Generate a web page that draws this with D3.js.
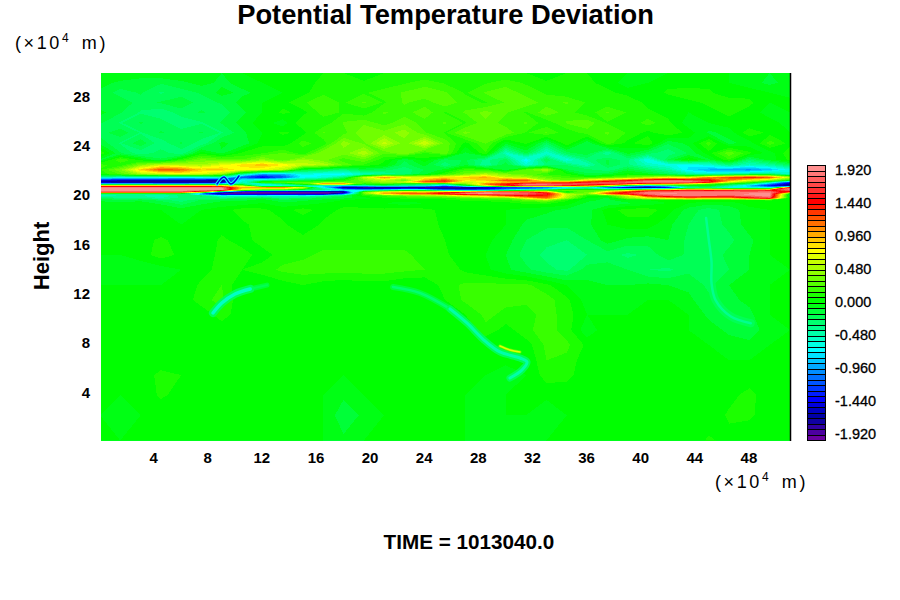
<!DOCTYPE html>
<html><head><meta charset="utf-8">
<style>html,body{margin:0;background:#fff}svg{display:block}text{font-family:"Liberation Sans",Arial,sans-serif;fill:#000}</style>
<script src="https://cdn.jsdelivr.net/npm/d3@7"></script></head><body><div id="chart"></div>
<script>
const titleText = "Potential Temperature Deviation";
const timeText = "TIME = 1013040.0";
const xTicks = [4,8,12,16,20,24,28,32,36,40,44,48];
const yTicks = [4,8,12,16,20,24,28];
const legendTicks = [1.92,1.44,0.96,0.48,0,-0.48,-0.96,-1.44,-1.92];
// one colour per 0.08 band, from -2.00 up to +2.00
const bandColors = ["#6a00a0","#4c00a0","#3000a0","#1000a0","#0000a8","#0000c0","#0000e0","#0000ff","#001cff","#0038ff",
"#0055ff","#0070ff","#008eff","#00aaff","#00c6ff","#00e2ff","#00ffff","#00ffe2","#00ffc6","#00ffaa",
"#00ff8e","#00ff70","#00ff55","#00ff38","#00ff14","#00ff00","#1cff00","#38ff00","#55ff00","#70ff00",
"#8eff00","#aaff00","#c6ff00","#e2ff00","#ffff00","#ffe200","#ffc600","#ffaa00","#ff8e00","#ff7000",
"#ff5500","#ff3800","#ff1c00","#ff0000","#ff1818","#ff3030","#ff4848","#ff6060","#ff7878","#ff9090"];
// sample stations, x10^4 m
const xStations = [0,1.5,3,4.5,6,7.5,9,10.5,12,13.5,15,16.5,18,19.5,21,22.5,24,25.5,27,28.5,30,31.5,33,34.5,36,37.5,39,40.5,42,43.5,45,46.5,48,49.5,51];
const heights = [29.8,29,28.2,27.4,26.6,25.75,24.95,24.1,23.3,22.75,22.35,21.95,21.6,21.35,21.1,20.95,20.8,20.65,20.5,20.3,20.15,20,19.85,19.65,19.5,19.25,18.7,17.5,16.25,15.05,13.85,12.6,11.4,10.2,8.95,7.75,6.5,5.3,3.7,2.05,0];
// deviation x100, one row per height, one column per station
const deviation = [
[0,0,0,0,0, -8,-8,0,0,0, 8,8,8,0,8, 8,8,8,8,8, 8,8,0,8,8, 0,0,-8,0,0, 0,0,-8,-8,-8],
[-5,-10,-15,-15,-10, -5,-10,-5,0,5, 5,10,15,10,10, 15,20,15,10,15, 20,15,10,15,10, 5,-5,0,5,0, 5,0,-5,-10,-5],
[-10,-20,-15,-25,-20, -15,-5,-10,-5,0, 5,15,10,15,20, 25,30,25,15,25, 30,20,15,10,15, 10,5,0,10,15, 10,0,5,0,-5],
[-15,-10,-20,-15,-10, -20,-15,-5,0,5, 15,20,15,25,15, 25,20,30,20,15, 25,30,20,25,15, 10,15,5,0,5, 10,15,10,0,5],
[-5,-15,-25,-30,-20, -15,-20,-10,0,10, 5,20,15,10,25, 20,30,15,25,35, 25,15,30,20,10, 25,15,10,5,0, 5,10,5,-5,0],
[-15,-25,-15,-20,-30, -25,-15,-5,5,-5, 15,10,25,30,20, 30,20,25,15,30, 20,25,10,25,30, 15,10,20,10,-5, 0,5,0,5,-5],
[-20,-10,-25,-15,-20, -15,-25,-10,0,10, 5,25,20,40,35, 45,25,15,35,25, 30,15,25,10,20, 25,15,5,15,5, -10,-5,15,5,0],
[-10,-25,-10,-30,-15, -30,-5,-15,5,0, 20,10,45,30,60, 35,65,30,5,25, -5,10,-20,15,-15, 20,5,15,-15,-5, 20,-10,-5,20,5],
[15,-15,-30,-20,-30, 5,-10,10,15,25, 10,40,35,55,25, 40,15,30,-10,15, -50,-15,-55,-20,-10, -40,-5,-20,-30,-15, 5,30,10,-5,15],
[-10,25,5,-15,15, 35,30,25,45,25, 50,35,20,30,10, -15,5,-20,-15,-35, -20,-70,-15,-60,-30, -15,-30,-65,-15,10, -10,15,-25,-5,10],
[20,10,40,60,55, 50,70,85,95,80, 60,55,30,15,5, -20,-5,-30,-10,-40, -10,-55,-30,-25,-45, -15,-30,-50,-60,-70, -55,-30,-50,-40,-20],
[15,40,90,130,120, 90,90,75,70,55, -10,-20,-30,-15,-20, -30,-15,-5,20,15, -10,30,50,-15,-20, -30,-10,-25,-40,-75, -90,-95,-100,-85,-60],
[10,25,50,60,70, 65,45,-30,-90,-90, -60,-65,-70,-50,-40, -30,-10,15,35,55, 40,30,15,10,-15, -10,5,-5,-20,-40, -50,-40,-30,-25,-50],
[-40,-50,-50,-55,-60, -55,-40,-120,-150,-120, -70,-60,-30,60,110, 80,70,80,90,100, 60,50,30,20,10, 20,30,50,70,60, 110,130,150,130,60],
[-140,-150,-150,-150,-150, -150,-170,-60,-40,-30, -20,-5,10,40,60, 30,100,130,80,90, 130,130,50,30,80, 110,140,170,180,170, 150,110,70,50,10],
[-170,-180,-180,-180,-180, -180,-170,-50,30,30, 30,30,30,30,50, 70,130,140,60,70, 90,100,110,120,150, 170,185,195,198,198, 170,70,30,-30,-120],
[-60,-60,-60,-70,-70, -60,-60,-30,-60,-30, 20,130,130,10,20, -10,-20,-30,40,120, 150,190,190,180,180, 170,150,110,100,60, 20,0,-30,-100,-170],
[120,120,120,120,120, 120,110,60,-60,-60, -50,-80,-90,-60,-30, -40,-50,-100,-20,60, 130,170,170,150,110, 60,-40,-100,-60,-10, 0,-40,-90,-140,-170],
[195,195,195,195,195, 195,195,100,120,130, 70,-60,-170,-190,-190, -190,-190,-190,-190,-170, -150,-150,-130,-90,-60, -120,-160,-170,-140,-40, -30,-60,-60,-60,190],
[199,199,199,199,199, 199,199,60,10,0, -20,-30,-60,-70,-50, -20,-30,-90,-100,-100, -60,-20,10,40,30, 20,60,110,130,150, 140,150,160,150,190],
[170,170,170,170,170, 100,-100,-195,-195,-195, -195,-195,-190,40,90, 100,90,130,150,180, 180,170,120,-10,30, 100,150,190,190,190, 190,190,180,190,130],
[-30,-30,-30,-30,-30, -120,-190,-190,-190,-190, -190,-190,-120,30,100, 130,130,160,190,199, 190,180,160,60,40, 130,160,190,195,190, 190,190,195,195,-10],
[-50,-40,-40,-50,-30, -20,-60,-50,-60,-50, -60,-40,-20,10,20, 30,40,50,80,100, 130,150,140,60,10, 10,60,150,180,190, 185,180,190,195,-20],
[-20,-30,-30,-40,-30, -30,-30,-20,-10,-30, -20,-15,-10,-5,5, 10,15,15,20,30, 30,80,120,50,0, -10,40,70,90,110, 100,100,140,170,-5],
[-10,-15,-10,-20,-30, -15,-10,-10,-5,-15, -10,-5,0,5,5, 5,5,5,10,10, 15,30,50,10,-5, -10,0,0,5,5, 5,5,5,10,0],
[-5,-5,-5,-10,-20, -10,-5,-5,0,-5, -5,0,5,0,0, -5,0,5,5,5, 5,10,10,5,-10, -15,-10,-5,0,0, -5,-5,5,5,0],
[0,0,0,0,-4, 0,4,12,10,4, 12,4,10,12,10, 12,10,6,2,4, 0,-4,-6,-10,-12, 4,12,12,4,-12, -20,-12,-4,0,0],
[0,0,0,0,0, 2,4,6,12,10, 0,10,12,12,12, 12,12,6,0,0, 0,-10,-14,-14,-10, 0,4,4,-6,-16, -20,-14,-4,0,0],
[0,0,4,10,4, 0,10,4,12,12, 12,12,12,12,12, 12,14,8,0,2, -4,-16,-22,-24,-16, -4,-10,-12,-8,-18, -20,-18,-10,0,0],
[0,0,4,12,6, 0,12,12,4,12, 14,18,18,18,18, 18,12,10,0,0, -8,-20,-26,-28,-24, -20,-26,-22,-10,-18, -20,-14,-8,0,0],
[-4,-8,-6,-4,0, 4,12,8,12,18, 20,20,20,20,20, 18,16,14,6,2, -6,-14,-22,-26,-12, -12,-16,-24,-26,-18, -20,-16,-8,-4,0],
[0,0,0,0,0, 10,16,0,0,4, 8,4,2,4,4, 0,0,12,18,18, 18,18,10,0,-6, -8,-8,-6,-8,-10, -18,-8,-4,0,0],
[0,0,0,0,0, 14,18,0,0,0, 0,0,0,0,0, 0,0,8,18,18, 18,18,20,10,-4, -4,-4,0,0,-6, -14,-10,-6,0,0],
[0,0,0,0,0, 0,14,0,0,0, 0,0,0,0,0, 0,0,2,8,18, 14,12,20,12,0, 0,0,0,0,0, -10,-14,-10,0,0],
[0,0,0,0,0, 0,0,0,0,0, 0,0,0,0,0, 0,0,0,0,14, 4,14,20,12,-6, 6,0,0,0,0, -4,-10,-12,-4,0],
[0,0,0,0,0, 0,0,0,0,0, 0,0,0,0,0, 0,0,0,0,0, 6,4,18,18,6, 0,0,0,0,0, 0,-4,-6,0,0],
[0,0,0,0,0, 0,0,0,0,0, 0,0,0,0,0, 0,0,0,0,0, 2,0,16,14,2, 0,0,0,0,0, 0,0,0,0,0],
[0,0,0,12,8, 0,0,0,0,0, 0,0,0,0,0, 0,0,0,0,0, -4,0,12,12,0, 0,0,0,0,0, 0,0,0,0,0],
[0,0,0,10,4, 0,0,0,0,0, 0,0,-6,0,0, 0,0,0,0,-4, 0,0,2,0,0, 0,0,0,0,0, 0,4,12,0,0],
[0,-4,0,0,0, 0,0,0,0,0, 0,0,-14,-6,0, 0,0,0,0,-4, 0,0,-6,0,0, 0,0,0,0,0, 0,10,10,2,0],
[0,0,0,0,0, 0,0,0,0,0, 0,0,-6,0,0, 0,0,0,0,-6, -8,-4,0,0,0, 0,0,0,0,0, 10,4,0,0,0]
];
// thin filaments, [x, height] x10^4 m, too narrow for the station grid
const arcLeftStrong = [[8.35,10.34],[9,11.15],[9.98,11.88],[11.1,12.29]];
const arcLeftFaint = [[11.1,12.29],[12.34,12.6]];
const arcRightFaint = [[21.66,12.45],[23.65,11.96],[25.87,10.67]];
const arcRightStrong = [[25.87,10.67],[27.12,9.53],[28.3,8.23],[29.56,7.18],[31.04,6.69],[31.56,6.37],[31.19,5.72],[30.3,5.07]];
const plumeCold = [[44.8,18.04],[45,16.26],[45.2,14.46],[45.2,12.76],[45.5,11.38],[46.6,10.08],[48.1,9.51]];
const swirlWarm = [[29.56,7.66],[30.3,7.34],[31.04,7.18]];
const kinkCold = [[8.65,20.8],[9.16,21.37],[9.68,20.8],[10.27,21.45]];
const filamentValues = {arcLeftStrong:[-0.5,-0.2],arcLeftFaint:[-0.24,-0.1],arcRightFaint:[-0.32,-0.12],arcRightStrong:[-0.48,-0.2],plumeCold:[-0.4,-0.2],swirlWarm:[0.7,0.3],kinkCold:[-1.5,-0.7]};

const W=900,H=600;
const svg=d3.select("#chart").append("svg").attr("width",W).attr("height",H);
const x=d3.scaleLinear().domain([0,51]).range([100,790]);
const y=d3.scaleLinear().domain([0,29.8]).range([440.5,73]);
const nx=xStations.length, ny=heights.length;
const colToX=d3.scaleLinear().domain(d3.range(nx)).range(xStations);
const rowToH=d3.scaleLinear().domain(d3.range(ny)).range(heights);
const levels=d3.range(bandColors.length).map(i=>-2+i*0.08);
const values=deviation.flat().map(v=>v/100);
const contours=d3.contours().size([nx,ny]).thresholds(levels)(values);
const path=d3.geoPath(d3.geoTransform({point(a,b){this.stream.point(x(colToX(a-0.5)),y(rowToH(b-0.5)));}}));
svg.append("clipPath").attr("id","plot").append("rect").attr("x",101).attr("y",73).attr("width",689).attr("height",367.5);
const plot=svg.append("g").attr("clip-path","url(#plot)");
plot.selectAll("path.band").data(contours).join("path").attr("class","band")
  .attr("d",path).attr("fill",(d,i)=>bandColors[i]).attr("shape-rendering","crispEdges");
const colorOf=v=>bandColors[Math.floor((v+2)/0.08+1e-6)];
const line=d3.line(d=>x(d[0]),d=>y(d[1])).curve(d3.curveCatmullRom);
[[arcLeftFaint,"arcLeftFaint",5,2],[arcRightFaint,"arcRightFaint",6,2.5],[arcLeftStrong,"arcLeftStrong",8,3.5],[arcRightStrong,"arcRightStrong",7,3],[plumeCold,"plumeCold",8,2.5],[swirlWarm,"swirlWarm",3,1.5],[kinkCold,"kinkCold",3.5,1.5]].forEach(([f,k,we,wc])=>{
  plot.append("path").attr("d",line(f)).attr("fill","none").attr("stroke",colorOf(filamentValues[k][1])).attr("stroke-width",we).attr("stroke-linecap","round");
  plot.append("path").attr("d",line(f)).attr("fill","none").attr("stroke",colorOf(filamentValues[k][0])).attr("stroke-width",wc).attr("stroke-linecap","round");
});
svg.append("line").attr("x1",790.5).attr("x2",790.5).attr("y1",73).attr("y2",441).attr("stroke","#000").attr("stroke-width",1.5);

const ax=svg.append("g").attr("transform","translate(-1,440.5)").call(d3.axisBottom(x).tickValues(xTicks).tickSize(0).tickPadding(12));
ax.select(".domain").remove();
ax.selectAll("text").attr("font-size",15).attr("font-weight","bold").style("font-family",'"Liberation Sans"');
const ay=svg.append("g").attr("transform","translate(100,1.2)").call(d3.axisLeft(y).tickValues(yTicks).tickSize(0).tickPadding(10));
ay.select(".domain").remove();
ay.selectAll("text").attr("font-size",15).attr("font-weight","bold").style("font-family",'"Liberation Sans"');

// legend
const ly=d3.scaleLinear().domain([-2,2]).range([440.5,165.5]);
const lg=svg.append("g");
lg.selectAll("rect").data(levels).join("rect").attr("x",807.5).attr("width",18)
  .attr("y",d=>ly(d+0.08)).attr("height",d=>ly(d)-ly(d+0.08))
  .attr("fill",(d,i)=>bandColors[i]).attr("stroke","#000").attr("stroke-width",1).attr("shape-rendering","crispEdges");
const al=svg.append("g").attr("transform","translate(826,-0.8)").call(d3.axisRight(ly).tickValues(legendTicks).tickSize(0).tickPadding(9).tickFormat(d=>d.toFixed(3)));
al.select(".domain").remove();
al.selectAll("text").attr("font-size",14.5).style("font-family",'"Liberation Sans"').attr("stroke","#000").attr("stroke-width",0.3);

svg.append("text").attr("x",445.5).attr("y",24).attr("text-anchor","middle").attr("font-size",27.3).attr("font-weight","bold").text(titleText);
svg.append("text").attr("x",469).attr("y",549).attr("text-anchor","middle").attr("font-size",20.7).attr("font-weight","bold").text(timeText);
svg.append("text").attr("transform","translate(49,256) rotate(-90)").attr("text-anchor","middle").attr("font-size",22).attr("font-weight","bold").text("Height");
function unit(px,py){
  const t=svg.append("text").attr("x",px).attr("y",py).attr("font-size",18).attr("letter-spacing",2.6).attr("word-spacing",3);
  t.append("tspan").text("(×10");
  t.append("tspan").attr("font-size",12).attr("dy",-7).text("4");
  t.append("tspan").attr("dy",7).text(" m)");
}
unit(15,49); unit(715,488);
</script></body></html>
